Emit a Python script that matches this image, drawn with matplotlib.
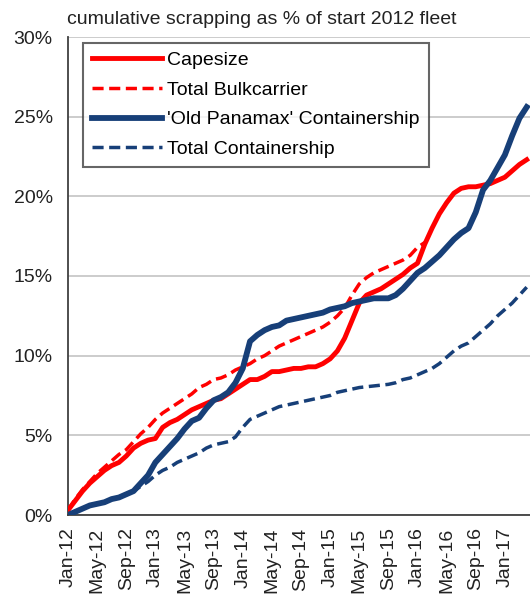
import matplotlib
matplotlib.use("Agg")
import matplotlib.pyplot as plt
import numpy as np

plt.rcParams['font.family'] = ['Liberation Sans', 'DejaVu Sans']

# monthly cumulative scrapping, % of start-2012 fleet (Jan-12 .. Mar-17)
capesize = [0.3, 0.9, 1.5, 2.0, 2.4, 2.8, 3.1, 3.3, 3.7, 4.2, 4.5, 4.7, 4.8,
            5.5, 5.8, 6.0, 6.3, 6.6, 6.8, 7.0, 7.2, 7.3, 7.6, 7.9, 8.2,
            8.5, 8.5, 8.7, 9.0, 9.0, 9.1, 9.2, 9.2, 9.3, 9.3, 9.5, 9.8,
            10.3, 11.1, 12.2, 13.3, 13.8, 14.0, 14.2, 14.5, 14.8, 15.1, 15.5, 15.8,
            17.0, 18.0, 18.9, 19.6, 20.2, 20.5, 20.6, 20.6, 20.7, 20.8, 21.0, 21.2,
            21.6, 22.0, 22.3]
total_bulk = [0.3, 1.0, 1.6, 2.1, 2.6, 3.0, 3.4, 3.8, 4.1, 4.6, 5.1, 5.5, 6.0,
              6.4, 6.7, 7.0, 7.3, 7.6, 8.0, 8.2, 8.5, 8.6, 8.8, 9.1, 9.3,
              9.5, 9.8, 10.0, 10.3, 10.6, 10.8, 11.0, 11.2, 11.4, 11.6, 11.8, 12.1,
              12.5, 13.0, 13.8, 14.5, 14.9, 15.2, 15.4, 15.6, 15.8, 16.0, 16.3, 16.8,
              17.1]
old_panamax = [0.0, 0.2, 0.4, 0.6, 0.7, 0.8, 1.0, 1.1, 1.3, 1.5, 2.0, 2.5, 3.3,
               3.8, 4.3, 4.8, 5.4, 5.9, 6.1, 6.7, 7.2, 7.4, 7.7, 8.3, 9.2,
               10.9, 11.3, 11.6, 11.8, 11.9, 12.2, 12.3, 12.4, 12.5, 12.6, 12.7, 12.9,
               13.0, 13.1, 13.3, 13.4, 13.5, 13.6, 13.6, 13.6, 13.8, 14.2, 14.7, 15.2,
               15.5, 15.9, 16.3, 16.8, 17.3, 17.7, 18.0, 19.0, 20.4, 21.0, 21.8, 22.6,
               23.8, 24.9, 25.6]
total_container = [0.0, 0.2, 0.4, 0.6, 0.7, 0.8, 1.0, 1.1, 1.3, 1.5, 1.8, 2.1, 2.5,
                   2.8, 3.0, 3.3, 3.5, 3.7, 3.9, 4.2, 4.4, 4.5, 4.6, 4.9, 5.5,
                   6.0, 6.2, 6.4, 6.6, 6.8, 6.9, 7.0, 7.1, 7.2, 7.3, 7.4, 7.5,
                   7.7, 7.8, 7.9, 8.0, 8.05, 8.1, 8.15, 8.2, 8.3, 8.5, 8.6, 8.8,
                   9.0, 9.2, 9.5, 9.9, 10.3, 10.6, 10.8, 11.2, 11.6, 12.0, 12.5, 12.9,
                   13.3, 13.8, 14.3]
tick_labels = ["Jan-12", "May-12", "Sep-12", "Jan-13", "May-13", "Sep-13",
               "Jan-14", "May-14", "Sep-14", "Jan-15", "May-15", "Sep-15",
               "Jan-16", "May-16", "Sep-16", "Jan-17"]

RED = "#ff0000"
BLUE = "#173f78"

fig = plt.figure(figsize=(5.3, 5.95), dpi=100)
ax = fig.add_axes([68 / 530, 80 / 595, 1 - 68 / 530, 478 / 595])

# dashed totals first, solid series on top
ax.plot(np.arange(len(total_bulk)), total_bulk, color=RED, lw=2.5,
        dashes=(3.2, 1.6), label="Total Bulkcarrier", zorder=3)
ax.plot(np.arange(len(total_container)), total_container, color=BLUE, lw=2.5,
        dashes=(3.2, 1.6), label="Total Containership", zorder=3)
ax.plot(np.arange(len(capesize)), capesize, color=RED, lw=3.5,
        label="Capesize", zorder=4)
ax.plot(np.arange(len(old_panamax)), old_panamax, color=BLUE, lw=4.2,
        label="'Old Panamax' Containership", zorder=5)

ax.set_xlim(0, 63.45)
ax.set_ylim(0, 30)
ax.set_yticks(np.arange(0, 31, 5))
ax.set_yticklabels([f"{v}%" for v in range(0, 31, 5)])
ax.set_xticks(np.arange(len(tick_labels)) * 4)
ax.set_xticklabels(tick_labels, rotation=90)
ax.tick_params(axis='y', length=0, pad=11, labelsize=14, labelcolor="#222222")
ax.tick_params(axis='x', length=0, pad=9, labelsize=14, labelcolor="#222222")

ax.yaxis.grid(True, color="#c8c8c8", lw=1.3)
ax.set_axisbelow(True)
for side in ("top", "right"):
    ax.spines[side].set_visible(False)
ax.spines["left"].set_color("#404040")
ax.spines["left"].set_linewidth(1.3)
ax.spines["bottom"].set_color("#404040")
ax.spines["bottom"].set_linewidth(1.3)

handles, labels = ax.get_legend_handles_labels()
order = [2, 0, 3, 1]
leg = ax.legend([handles[i] for i in order], [labels[i] for i in order],
                loc="upper left", bbox_to_anchor=(0.032, 0.988), borderaxespad=0,
                fontsize=14, frameon=True, fancybox=False, handlelength=3.6,
                handletextpad=0.3, labelspacing=0.62, borderpad=0.45)
leg.get_frame().set_edgecolor("#404040")
leg.get_frame().set_linewidth(1.5)

fig.text(67 / 530, 1 - 19 / 595, "cumulative scrapping as % of start 2012 fleet",
         fontsize=14, va="center", ha="left", color="#222222")

fig.savefig("out.png", dpi=100)
